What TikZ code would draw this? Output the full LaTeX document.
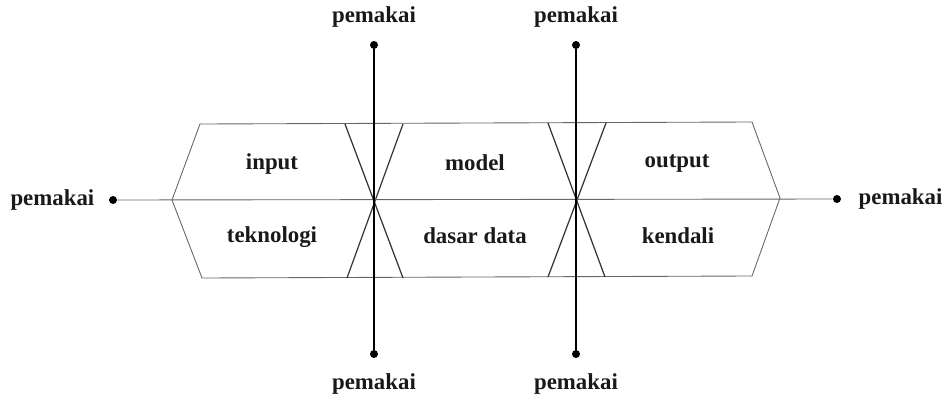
\documentclass[tikz,border=0pt]{standalone}
\usepackage{fontspec}
\setmainfont{Liberation Serif}
\usetikzlibrary{positioning}
\tikzset{
  titik/.style={circle, fill=black, inner sep=0pt, minimum size=1.6mm},
  teks/.style={font=\fontsize{13}{15}\selectfont\bfseries, inner sep=0pt, text=black!90},
  garis/.style={black!60, line width=0.5pt},
  sumbu/.style={black, line width=1pt},
  silang/.style={black!80, line width=0.7pt},
}
\begin{document}
\begin{tikzpicture}[x=0.02cm, y=-0.02cm]
  \useasboundingbox (0,0) rectangle (944,396);

  % titik pemakai
  \node[titik] (kiri)   at (113,200) {};
  \node[titik] (kanan)  at (837,199) {};
  \node[titik] (atas1)  at (374,45)  {};
  \node[titik] (bawah1) at (374,354) {};
  \node[titik] (atas2)  at (576,45)  {};
  \node[titik] (bawah2) at (576,354) {};

  \node[teks, left=0.28cm of kiri]   (pkiri)   {pemakai};
  \node[teks, right=0.34cm of kanan] (pkanan)  {pemakai};
  \node[teks, above=0.26cm of atas1]  (patas1)  {pemakai};
  \node[teks, above=0.26cm of atas2]  (patas2)  {pemakai};
  \node[teks, below=0.3cm of bawah1] (pbawah1) {pemakai};
  \node[teks, below=0.3cm of bawah2] (pbawah2) {pemakai};

  % bidang
  \node[teks] (input)  at (272,164) {input};
  \node[teks] (tekno)  at (272,237) {teknologi};
  \node[teks] (model)  at (475,163) {model};
  \node[teks] (dasar)  at (475,236) {dasar data};
  \node[teks] (output) at (677,163) {output};
  \node[teks] (kendal) at (678,236) {kendali};

  % segi enam
  \coordinate (hKiri)      at (172,200);
  \coordinate (hKiriAtas)  at (200,124);
  \coordinate (hKananAtas) at (752,122);
  \coordinate (hKanan)     at (780,198);
  \coordinate (hKananBwh)  at (752,276);
  \coordinate (hKiriBwh)   at (202,278);
  \draw[garis] (hKiri) -- (hKiriAtas) -- (hKananAtas) -- (hKanan)
    -- (hKananBwh) -- (hKiriBwh) -- cycle;

  % silang
  \coordinate (s1a) at (345,124); \coordinate (s1b) at (403,124);
  \coordinate (s1c) at (347,278); \coordinate (s1d) at (403,278);
  \coordinate (s2a) at (548,123); \coordinate (s2b) at (606,123);
  \coordinate (s2c) at (548,277); \coordinate (s2d) at (605,277);
  \draw[silang] (s1a) -- (s1d);
  \draw[silang] (s1b) -- (s1c);
  \draw[silang] (s2a) -- (s2d);
  \draw[silang] (s2b) -- (s2c);

  \draw[garis] (kiri) -- (kanan);
  \draw[sumbu] (atas1) -- (bawah1);
  \draw[sumbu] (atas2) -- (bawah2);
\end{tikzpicture}
\end{document}
